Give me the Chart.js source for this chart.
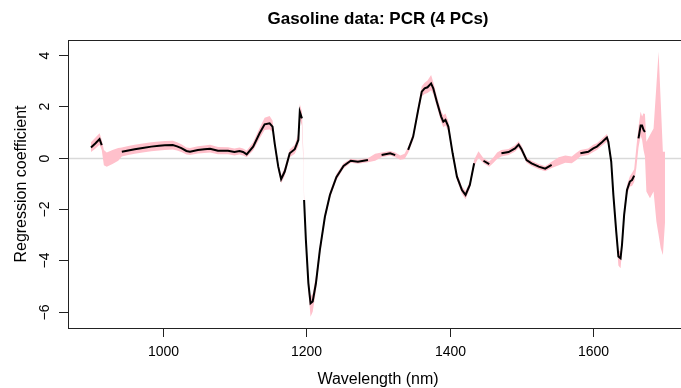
<!DOCTYPE html>
<html>
<head>
<meta charset="utf-8">
<script src="https://cdn.jsdelivr.net/npm/chart.js@4.4.1/dist/chart.umd.min.js"></script>
<style>
  html, body { margin: 0; padding: 0; background: #fff; overflow: hidden; }
  #wrap { width: 700px; height: 388px; }
</style>
</head>
<body>
<div id="wrap"><canvas id="chart" width="700" height="388"></canvas></div>
<script>
'use strict';

/* ── Data ── */
const wavelength = [
  900, 906, 912, 915, 918, 922, 930, 938, 943, 952, 961, 972, 984, 995, 1003, 1014,
  1020, 1026, 1033, 1038, 1049, 1058, 1066, 1077, 1091, 1100, 1107, 1112, 1117, 1126,
  1135, 1142, 1149, 1153, 1156, 1161, 1165, 1170, 1177, 1184, 1189, 1191, 1194, 1196,
  1197, 1199.5, 1203, 1206, 1209, 1213.5, 1219, 1226, 1233, 1242, 1252, 1262, 1272,
  1286, 1296, 1305, 1317, 1324, 1331, 1337, 1342, 1349, 1356, 1361, 1365, 1369, 1374,
  1377, 1382, 1388, 1391, 1394, 1398, 1404, 1410, 1417, 1422, 1428, 1434, 1440, 1447,
  1455, 1461, 1466, 1472, 1482, 1491, 1496, 1500, 1507, 1514, 1524, 1533, 1542, 1552,
  1561, 1570, 1576, 1582, 1593, 1600, 1605, 1612, 1619, 1621, 1625, 1628, 1632, 1635,
  1638, 1640, 1643, 1647, 1651, 1654, 1657, 1660, 1663, 1666, 1668, 1670, 1672, 1674,
  1679, 1684, 1688, 1691, 1694, 1697, 1700
];

// PCR regression coefficient (null = not drawn, interval covers zero)
const coef = [
  0.40, 0.55, 0.72, 0.49, null, null, null, null, 0.23, 0.28, 0.33, 0.38, 0.43, 0.46, 0.48, 0.49,
  0.44, 0.37, 0.26, 0.23, 0.30, 0.33, 0.35, 0.27, 0.27, 0.22, 0.26, 0.22, 0.13, 0.43,
  0.95, 1.30, 1.34, 1.21, 0.56, -0.35, -0.84, -0.54, 0.17, 0.33, 0.69, 1.79, 1.53, null,
  -1.65, -3.20, -4.89, -5.67, -5.60, -4.89, -3.59, -2.30, -1.45, -0.76, -0.32, -0.12, -0.16,
  -0.09, null, 0.10, 0.17, 0.10, null, null, 0.30, 0.82, 1.86, 2.57, 2.70, 2.74, 2.89,
  2.70, 2.18, 1.60, 1.40, 1.47, 1.21, 0.17, -0.74, -1.26, -1.45, -1.06, -0.22, null, -0.12,
  -0.25, null, null, 0.17, 0.22, 0.36, 0.51, 0.33, -0.09, -0.22, -0.35, -0.43, -0.28, null,
  null, null, null, 0.17, 0.23, 0.36, 0.43, 0.60, 0.78, 0.62, -0.15, -1.45, -2.88, -3.85,
  -3.92, -3.40, -2.23, -1.26, -0.93, -0.87, -0.70, null, 0.75, 1.25, 1.25, 1.08, 1.00, null,
  null, null, null, null, null, null, null
];

const lower = [
  0.22, 0.35, 0.50, 0.30, -0.30, -0.35, -0.25, -0.12, 0.05, 0.10, 0.15, 0.20, 0.25, 0.28, 0.30, 0.32,
  0.28, 0.22, 0.12, 0.10, 0.16, 0.18, 0.20, 0.13, 0.13, 0.08, 0.12, 0.08, 0.02, 0.28,
  0.75, 1.08, 1.10, 1.00, 0.40, -0.50, -1.00, -0.70, 0.02, 0.15, 0.45, 1.50, 1.25, -0.20,
  -1.85, -3.40, -5.20, -6.19, -6.00, -5.20, -3.80, -2.45, -1.58, -0.88, -0.42, -0.20, -0.24,
  -0.18, -0.12, 0.02, 0.08, 0.02, -0.08, -0.05, 0.18, 0.68, 1.68, 2.38, 2.48, 2.52, 2.62,
  2.48, 1.98, 1.40, 1.18, 1.25, 1.02, 0.04, -0.88, -1.40, -1.62, -1.20, -0.34, 0.00, -0.22,
  -0.35, -0.20, -0.05, 0.05, 0.10, 0.24, 0.38, 0.20, -0.20, -0.32, -0.45, -0.53, -0.40, -0.30,
  -0.20, -0.22, -0.10, 0.05, 0.10, 0.22, 0.30, 0.46, 0.62, 0.48, -0.30, -1.62, -3.08, -4.20,
  -4.30, -3.65, -2.45, -1.45, -1.12, -1.10, -0.95, -0.40, 0.40, 0.85, 0.70, 0.30, 0.05, -1.32,
  -1.58, -1.32, -2.49, -3.00, -3.53, -3.79, -2.50
];

const upper = [
  0.60, 0.78, 0.95, 0.70, 0.30, 0.20, 0.30, 0.38, 0.40, 0.45, 0.50, 0.55, 0.60, 0.63, 0.65, 0.66,
  0.60, 0.52, 0.40, 0.38, 0.44, 0.47, 0.50, 0.42, 0.41, 0.36, 0.40, 0.36, 0.28, 0.60,
  1.15, 1.55, 1.62, 1.45, 0.75, -0.20, -0.68, -0.38, 0.32, 0.50, 0.95, 2.09, 1.80, 0.20,
  -1.45, -3.00, -4.60, -5.40, -5.30, -4.60, -3.40, -2.15, -1.32, -0.64, -0.22, -0.04, -0.08,
  -0.02, 0.15, 0.20, 0.26, 0.20, 0.08, 0.15, 0.42, 0.96, 2.05, 2.78, 2.92, 3.00, 3.22,
  2.95, 2.40, 1.82, 1.65, 1.72, 1.42, 0.30, -0.60, -1.12, -1.30, -0.92, -0.08, 0.25, -0.02,
  -0.15, 0.02, 0.20, 0.30, 0.34, 0.48, 0.64, 0.46, 0.02, -0.12, -0.25, -0.33, -0.16, 0.02,
  0.08, 0.05, 0.18, 0.30, 0.36, 0.50, 0.56, 0.74, 0.92, 0.78, 0.00, -1.28, -2.68, -3.60,
  -3.65, -3.15, -2.00, -1.05, -0.72, -0.60, -0.45, 0.40, 1.20, 1.79, 1.60, 1.73, 1.70, 0.62,
  0.88, 1.14, 2.83, 4.12, 2.18, 0.23, 0.23
];

const xTicks = [1000, 1200, 1400, 1600];
const yTicks = [-6, -4, -2, 0, 2, 4];

const TITLE = 'Gasoline data: PCR (4 PCs)';
const X_LABEL = 'Wavelength (nm)';
const Y_LABEL = 'Regression coefficient';

const FONT = "'Liberation Sans', Arial, Helvetica, sans-serif";

/* ── R-style axes, box and titles ── */
const rAxesPlugin = {
  id: 'rAxes',
  beforeDatasetsDraw(chart) {
    const { ctx, chartArea, scales } = chart;
    const y0 = Math.round(scales.y.getPixelForValue(0)) + 0.5;
    ctx.save();
    ctx.strokeStyle = '#d9d9d9';
    ctx.lineWidth = 1.5;
    ctx.beginPath();
    ctx.moveTo(chartArea.left, y0);
    ctx.lineTo(chartArea.right, y0);
    ctx.stroke();
    ctx.restore();
  },
  afterDraw(chart) {
    const { ctx, chartArea, scales } = chart;
    const { left, right, top, bottom } = chartArea;
    const tick = 9;
    ctx.save();
    ctx.strokeStyle = '#222';
    ctx.lineWidth = 1;
    ctx.strokeRect(left + 0.5, top + 0.5, right - left, bottom - top);

    // x axis
    const xs = xTicks.map(v => Math.round(scales.x.getPixelForValue(v)) + 0.5);
    ctx.beginPath();
    ctx.moveTo(xs[0], bottom + 0.5);
    ctx.lineTo(xs[xs.length - 1], bottom + 0.5);
    xs.forEach(px => { ctx.moveTo(px, bottom); ctx.lineTo(px, bottom + tick); });
    ctx.stroke();

    ctx.fillStyle = '#000';
    ctx.font = `14px ${FONT}`;
    ctx.textAlign = 'center';
    ctx.textBaseline = 'middle';
    xTicks.forEach((v, i) => ctx.fillText(String(v), xs[i], bottom + 24));

    // y axis
    const ys = yTicks.map(v => Math.round(scales.y.getPixelForValue(v)) + 0.5);
    ctx.beginPath();
    ctx.moveTo(left + 0.5, ys[0]);
    ctx.lineTo(left + 0.5, ys[ys.length - 1]);
    ys.forEach(py => { ctx.moveTo(left, py); ctx.lineTo(left - tick, py); });
    ctx.stroke();

    yTicks.forEach((v, i) => {
      ctx.save();
      ctx.translate(left - 23, ys[i]);
      ctx.rotate(-Math.PI / 2);
      ctx.fillText(v < 0 ? '\u2212' + Math.abs(v) : String(v), 0, 0);
      ctx.restore();
    });

    // axis titles
    ctx.font = `16px ${FONT}`;
    ctx.fillText(X_LABEL, (left + right) / 2, bottom + 52);
    ctx.save();
    ctx.translate(22, (top + bottom) / 2);
    ctx.rotate(-Math.PI / 2);
    ctx.fillText(Y_LABEL, 0, 0);
    ctx.restore();

    // main title
    ctx.font = `bold 17px ${FONT}`;
    ctx.fillText(TITLE, (left + right) / 2, 19);
    ctx.restore();
  },
};

const pts = arr => wavelength.map((w, i) => ({ x: w, y: arr[i] }));

new Chart(document.getElementById('chart').getContext('2d'), {
  type: 'line',
  data: {
    datasets: [
      {
        label: 'lower',
        data: pts(lower),
        borderWidth: 0,
        pointRadius: 0,
        fill: false,
        order: 2,
      },
      {
        label: 'upper',
        data: pts(upper),
        borderWidth: 0,
        pointRadius: 0,
        backgroundColor: '#ffc0cb',
        fill: '-1',
        order: 1,
      },
      {
        label: 'coefficient',
        data: pts(coef),
        borderColor: '#000',
        borderWidth: 2,
        pointRadius: 0,
        spanGaps: false,
        fill: false,
        order: 0,
      },
    ],
  },
  options: {
    responsive: false,
    animation: false,
    devicePixelRatio: 1,
    layout: { padding: { left: 68, top: 40, right: 12, bottom: 60 } },
    plugins: { legend: { display: false }, tooltip: { enabled: false }, title: { display: false } },
    scales: {
      x: { type: 'linear', min: 868, max: 1732, display: false },
      y: { type: 'linear', min: -6.63, max: 4.58, display: false },
    },
  },
  plugins: [rAxesPlugin],
});
</script>
</body>
</html>
